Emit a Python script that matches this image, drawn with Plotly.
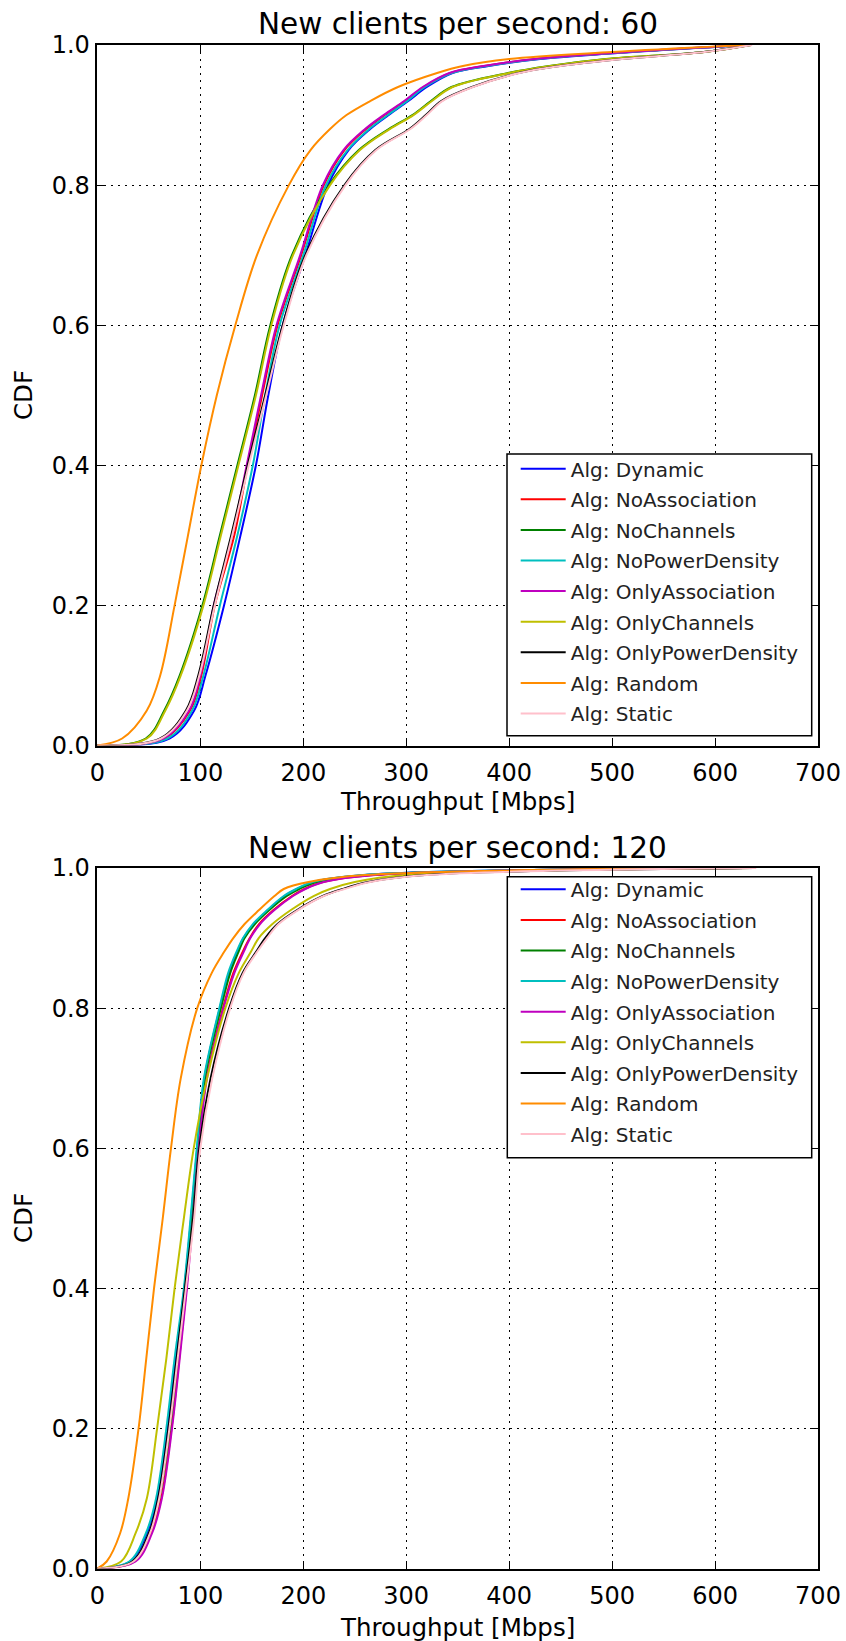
import plotly.graph_objects as go

# CDF levels (y values) shared by all series
cdf_levels = [0, 0.01, 0.05, 0.1, 0.2, 0.3, 0.4, 0.5, 0.6, 0.7, 0.8, 0.85, 0.88, 0.9,
              0.92, 0.94, 0.96, 0.97, 0.98, 0.99, 1.0]

algorithms = ["Dynamic", "NoAssociation", "NoChannels", "NoPowerDensity", "OnlyAssociation",
              "OnlyChannels", "OnlyPowerDensity", "Random", "Static"]
colors = ["#0000ff", "#ff0000", "#008000", "#00bfbf", "#bf00bf",
          "#bfbf00", "#000000", "#ff8c00", "#ffc0cb"]

# Throughput [Mbps] at each CDF level - new clients per second: 60
thr60_dynamic = [0, 70, 94, 105, 123, 139, 154, 166, 180, 202, 224, 244, 265, 283, 302, 320, 345, 380, 430, 520, 633]
thr60_noassoc = [0, 65, 90, 101, 114, 133, 146, 160, 175, 198, 220, 240, 261, 279, 299, 317, 343, 376, 426, 516, 631]
thr60_nochan = [0, 47, 65, 80, 102, 119, 136, 153, 168, 189, 225, 254, 283, 306, 324, 344, 399, 439, 494, 589, 634]
thr60_nopower = [0, 68, 92, 103, 119, 136, 151, 163, 177, 200, 222, 243, 264, 282, 301, 318, 344, 378, 428, 518, 632]
thr60_onlyassoc = [0, 64, 89, 100, 113, 131, 145, 159, 174, 197, 219, 239, 260, 278, 298, 316, 342, 375, 425, 515, 630]
thr60_onlychan = [0, 48, 66, 81, 103, 120, 137, 154, 169, 190, 226, 255, 284, 307, 325, 345, 400, 440, 495, 590, 635]
thr60_onlypower = [0, 61, 86, 98, 113, 130, 146, 163, 180, 202, 240, 270, 303, 319, 334, 364, 409, 449, 509, 589, 635]
thr60_random = [0, 24, 48, 61, 75, 88, 101, 116, 134, 155, 186, 207, 226, 242, 265, 292, 330, 355, 400, 500, 630]
thr60_static = [0, 62, 87, 99, 114, 131, 147, 164, 181, 203, 241, 271, 304, 320, 335, 365, 410, 450, 510, 590, 636]

# Throughput [Mbps] at each CDF level - new clients per second: 120
thr120_dynamic = [0, 32, 48, 58, 68, 76, 84.5, 91, 97, 104, 119, 128, 136, 142, 152, 166, 182, 194, 210, 260, 630]
thr120_noassoc = [0, 36, 52, 62, 72, 79.5, 86.5, 92.5, 98, 106, 122, 132, 141, 148, 157, 171, 189, 201, 219, 268, 630]
thr120_nochan = [0, 34, 50, 60, 70.5, 78, 86, 92, 97.5, 104.5, 120, 129, 137, 143, 153, 167, 184, 196, 213, 263, 630]
thr120_nopower = [0, 31, 47, 57, 67, 75, 84, 90.5, 96.5, 103.5, 118.5, 127, 135, 141.5, 151, 165, 181, 193, 209, 258, 628]
thr120_onlyassoc = [0, 37, 53, 62.6, 72.5, 80, 87, 93, 98.5, 106.5, 122.6, 133, 142, 148.6, 158, 172, 190, 202, 220, 270, 630]
thr120_onlychan = [0, 23, 37, 48, 58, 67, 75, 84, 93.6, 106.6, 124.3, 137.3, 149, 156.7, 170, 188, 210, 226, 250, 300, 635]
thr120_onlypower = [0, 34, 50, 59, 69, 77, 85, 93, 99, 110, 128, 141, 154, 163, 175, 194, 219, 238, 263, 318, 638]
thr120_random = [0, 9, 22, 30, 40, 47.5, 55, 63.5, 71.5, 81, 97, 111, 123, 132, 143, 157, 172, 181, 205, 260, 600]
thr120_static = [0, 35, 51, 60, 70, 78, 86, 94, 100, 111.6, 129, 142, 155, 164.8, 176, 195, 220, 240, 265, 320, 640]

series60 = [thr60_dynamic, thr60_noassoc, thr60_nochan, thr60_nopower, thr60_onlyassoc,
            thr60_onlychan, thr60_onlypower, thr60_random, thr60_static]
series120 = [thr120_dynamic, thr120_noassoc, thr120_nochan, thr120_nopower, thr120_onlyassoc,
             thr120_onlychan, thr120_onlypower, thr120_random, thr120_static]

titles = ["New clients per second: 60", "New clients per second: 120"]
x_ticks = [0, 100, 200, 300, 400, 500, 600, 700]
y_ticks = [0.0, 0.2, 0.4, 0.6, 0.8, 1.0]
y_ticklabels = ["0.0", "0.2", "0.4", "0.6", "0.8", "1.0"]

W, H = 846, 1641
FONT = "DejaVu Sans, sans-serif"

fig = go.Figure()
for data, xa, ya, lg in [(series60, "x", "y", "legend"), (series120, "x2", "y2", "legend2")]:
    for name, col, vals in zip(algorithms, colors, data):
        fig.add_trace(go.Scatter(
            x=vals, y=cdf_levels, mode="lines", name="Alg: " + name,
            line=dict(color=col, width=2, shape="spline", smoothing=1.0),
            xaxis=xa, yaxis=ya, legend=lg, legendgroup=lg + name,
        ))

xdom = [97.4 / W, 818 / W]
ydom_top = [(H - 745.5) / H, (H - 45) / H]
ydom_bot = [(H - 1568.5) / H, (H - 868) / H]

axis_common = dict(
    showline=True, linecolor="black", linewidth=1.5, mirror="ticks",
    ticks="inside", ticklen=8, tickwidth=1, tickcolor="black",
    showgrid=True, gridcolor="black", gridwidth=1, griddash="2px,5px",
    zeroline=False, automargin=False,
    tickfont=dict(family=FONT, size=24, color="black"),
)

legend_common = dict(xanchor="left", yanchor="top", bgcolor="rgba(0,0,0,0)",
                     borderwidth=0, itemwidth=45, tracegroupgap=1.6,
                     font=dict(family=FONT, size=20, color="#222"))

fig.update_layout(
    template="none",
    width=W, height=H, margin=dict(l=0, r=0, t=0, b=0, autoexpand=False),
    paper_bgcolor="white", plot_bgcolor="white",
    xaxis=dict(domain=xdom, anchor="y", range=[0, 700], tickvals=x_ticks,
               ticklabelstandoff=5, **axis_common),
    yaxis=dict(domain=ydom_top, anchor="x", range=[0, 1], tickvals=y_ticks,
               ticktext=y_ticklabels, ticklabelstandoff=1, **axis_common),
    xaxis2=dict(domain=xdom, anchor="y2", range=[0, 700], tickvals=x_ticks,
                ticklabelstandoff=5, **axis_common),
    yaxis2=dict(domain=ydom_bot, anchor="x2", range=[0, 1], tickvals=y_ticks,
                ticktext=y_ticklabels, ticklabelstandoff=1, **axis_common),
    legend=dict(x=515.7 / W, y=(H - 449.2) / H, **legend_common),
    legend2=dict(x=515.7 / W, y=(H - 869.8) / H, **legend_common),
    showlegend=True,
)

# legend frames (white boxes with black border, drawn over the curves)
shapes = []
for (x0, y0, x1, y1) in [(507, 454, 811.7, 735.7), (507.3, 876.7, 811.7, 1157.7)]:
    shapes.append(dict(type="rect", xref="paper", yref="paper",
                       x0=x0 / W, x1=x1 / W, y0=(H - y1) / H, y1=(H - y0) / H,
                       fillcolor="white", line=dict(color="black", width=1.5),
                       layer="above"))
fig.update_layout(shapes=shapes)

ann = []
for t, yc in zip(titles, [23.8, 847.5]):
    ann.append(dict(text=t, x=457.7 / W, y=(H - yc) / H, xref="paper", yref="paper",
                    xanchor="center", yanchor="middle", showarrow=False,
                    font=dict(family=FONT, size=29.5, color="black")))
for yc in [801.6, 1627]:
    ann.append(dict(text="Throughput [Mbps]", x=457.7 / W, y=(H - yc) / H, xref="paper",
                    yref="paper", xanchor="center", yanchor="middle", showarrow=False,
                    font=dict(family=FONT, size=24.5, color="black")))
for yc in [395, 1218]:
    ann.append(dict(text="CDF", x=23 / W, y=(H - yc) / H, xref="paper", yref="paper",
                    xanchor="center", yanchor="middle", showarrow=False, textangle=-90,
                    font=dict(family=FONT, size=24.5, color="black")))
fig.update_layout(annotations=ann)

fig.write_html("out.html")
